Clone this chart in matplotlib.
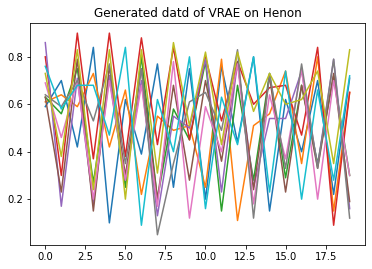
import numpy as np
import matplotlib
matplotlib.use('Agg')
from matplotlib import pyplot as plt

steps = list(range(20))

# one generated sequence per line
seq_blue = [0.59, 0.70, 0.42, 0.84, 0.10, 0.62, 0.39, 0.77, 0.25, 0.75,
            0.20, 0.76, 0.44, 0.80, 0.15, 0.62, 0.40, 0.70, 0.22, 0.71]
seq_orange = [0.61, 0.64, 0.59, 0.73, 0.42, 0.66, 0.22, 0.55, 0.49, 0.51,
              0.25, 0.79, 0.11, 0.51, 0.56, 0.74, 0.35, 0.80, 0.15, 0.65]
seq_green = [0.63, 0.56, 0.75, 0.27, 0.72, 0.25, 0.80, 0.20, 0.58, 0.45,
             0.78, 0.15, 0.68, 0.28, 0.73, 0.29, 0.68, 0.35, 0.72, 0.30]
seq_red = [0.80, 0.30, 0.90, 0.37, 0.90, 0.38, 0.88, 0.43, 0.84, 0.45,
           0.80, 0.53, 0.78, 0.60, 0.67, 0.68, 0.47, 0.84, 0.09, 0.65]
seq_purple = [0.86, 0.17, 0.71, 0.18, 0.72, 0.28, 0.70, 0.13, 0.55, 0.50,
              0.79, 0.23, 0.78, 0.25, 0.54, 0.54, 0.74, 0.34, 0.79, 0.16]
seq_brown = [0.63, 0.23, 0.79, 0.15, 0.76, 0.30, 0.75, 0.20, 0.68, 0.28,
             0.70, 0.36, 0.78, 0.24, 0.72, 0.23, 0.68, 0.33, 0.73, 0.19]
seq_pink = [0.69, 0.46, 0.70, 0.20, 0.70, 0.28, 0.68, 0.17, 0.78, 0.12,
            0.59, 0.40, 0.77, 0.18, 0.64, 0.37, 0.75, 0.20, 0.70, 0.30]
seq_gray = [0.64, 0.59, 0.70, 0.53, 0.77, 0.35, 0.75, 0.05, 0.35, 0.61,
            0.65, 0.49, 0.83, 0.12, 0.73, 0.33, 0.77, 0.33, 0.79, 0.12]
seq_olive = [0.73, 0.38, 0.83, 0.24, 0.83, 0.20, 0.83, 0.31, 0.86, 0.51,
             0.82, 0.43, 0.82, 0.57, 0.73, 0.60, 0.62, 0.74, 0.35, 0.83]
seq_cyan = [0.76, 0.58, 0.68, 0.68, 0.47, 0.84, 0.09, 0.62, 0.40, 0.80,
            0.16, 0.63, 0.43, 0.80, 0.23, 0.74, 0.20, 0.66, 0.28, 0.72]

all_seqs = [seq_blue, seq_orange, seq_green, seq_red, seq_purple,
            seq_brown, seq_pink, seq_gray, seq_olive, seq_cyan]

plt.figure(figsize=(6, 4), dpi=72)
for s in all_seqs:
    plt.plot(steps, s)
plt.title('Generated datd of VRAE on Henon')
plt.savefig('out.png', dpi=72, bbox_inches='tight')
